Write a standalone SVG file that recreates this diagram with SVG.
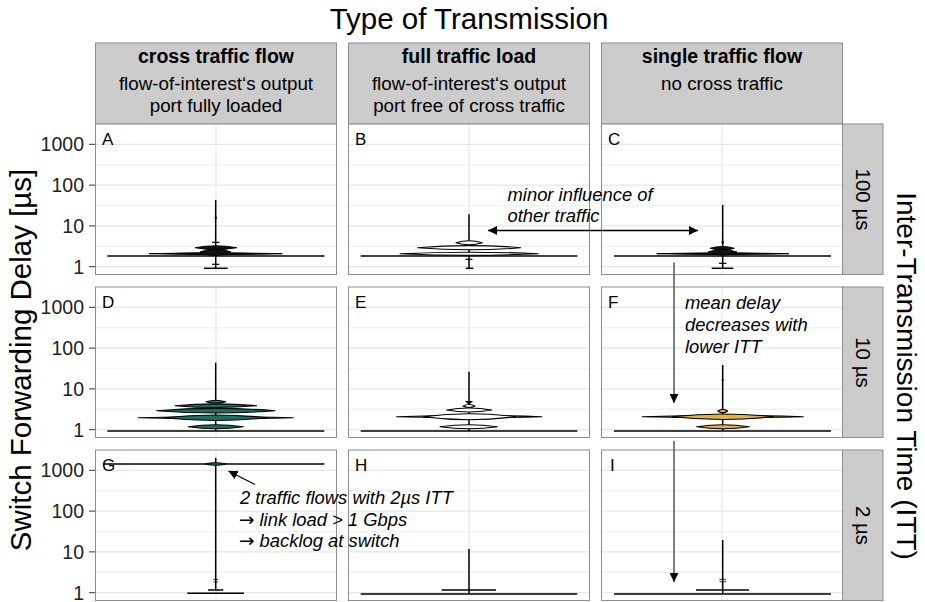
<svg xmlns="http://www.w3.org/2000/svg" width="925" height="602" viewBox="0 0 925 602">
  <defs>
    <marker id="ah" viewBox="0 0 10 10" refX="10" refY="5" markerWidth="9" markerHeight="9" markerUnits="userSpaceOnUse" orient="auto-start-reverse">
      <path d="M0,0 L10,5 L0,10 z" fill="#000"/>
    </marker>
    <style>
      text { font-family: "Liberation Sans", Arial, sans-serif; fill: #000; }
      .ttl { font-size: 29.5px; }
      .tick { font-size: 19.5px; text-anchor: end; fill: #222; }
      .hb { font-size: 19.5px; font-weight: bold; text-anchor: middle; }
      .hr { font-size: 18.8px; text-anchor: middle; }
      .rs { font-size: 20.5px; text-anchor: middle; }
      .lab { font-size: 17px; }
      .note { font-size: 18.4px; font-style: italic; }
      .sym { font-family: "DejaVu Sans", sans-serif; }
      .strip { fill: #CCCCCC; stroke: #8C8C8C; stroke-width: 1; }
      .panel { fill: #FFFFFF; }
      .frame { fill: none; stroke: #8C8C8C; stroke-width: 1; }
      .gmaj { stroke: #E6E6E6; stroke-width: 1.2; }
      .gmin { stroke: #F2F2F2; stroke-width: 1.4; }
      .tk { stroke: #333; stroke-width: 1; }
      .ln { stroke: #000; stroke-width: 1.5; fill: none; }
      .lt { stroke: #000; stroke-width: 1.2; fill: none; }
      .lh { stroke: #000; stroke-width: 0.8; fill: none; }
      .vA { fill: #1B6E63; stroke: #000; stroke-width: 1.1; stroke-linejoin: round; }
      .vB { fill: #FFFFFF; stroke: #000; stroke-width: 1.1; stroke-linejoin: round; }
      .vC { fill: #E3B04B; stroke: #000; stroke-width: 1.1; stroke-linejoin: round; }
      .blk { fill: #111; stroke: #000; stroke-width: 1; }
      .arr { stroke: #000; stroke-width: 1.3; fill: none; }
      .arg { stroke: #555; stroke-width: 1.5; fill: none; }
    </style>
    <!-- grid for one panel (origin at panel top-left), width 241, height 150.5 -->
    <g id="grid">
      <rect class="panel" x="0" y="0" width="241" height="150.5"/>
      <line class="gmin" x1="0" x2="241" y1="40.7" y2="40.7"/>
      <line class="gmin" x1="0" x2="241" y1="81.5" y2="81.5"/>
      <line class="gmin" x1="0" x2="241" y1="122.3" y2="122.3"/>
      <line class="gmaj" x1="0" x2="241" y1="20.3" y2="20.3"/>
      <line class="gmaj" x1="0" x2="241" y1="61.1" y2="61.1"/>
      <line class="gmaj" x1="0" x2="241" y1="101.9" y2="101.9"/>
      <line class="gmaj" x1="0" x2="241" y1="142.7" y2="142.7"/>
      <line class="gmaj" x1="120.5" x2="120.5" y1="0" y2="150.5"/>
    </g>
  </defs>

  <rect width="925" height="602" fill="#FFFFFF"/>

  <!-- titles -->
  <g id="titles">
    <text class="ttl" x="469" y="29" text-anchor="middle">Type of Transmission</text>
    <text class="ttl" transform="translate(31,360) rotate(-90)" text-anchor="middle">Switch Forwarding Delay [µs]</text>
    <text class="ttl" style="font-size:28px" transform="translate(897,376) rotate(90)" text-anchor="middle">Inter-Transmission Time (ITT)</text>
  </g>

  <!-- column strips -->
  <g id="strip-cross">
    <rect class="strip" x="95.5" y="43" width="241" height="81"/>
    <text class="hb" x="216" y="63.3">cross traffic flow</text>
    <text class="hr" x="216" y="90">flow-of-interest‘s output</text>
    <text class="hr" x="216" y="111.7">port fully loaded</text>
  </g>
  <g id="strip-full">
    <rect class="strip" x="348.5" y="43" width="241" height="81"/>
    <text class="hb" x="469" y="63.3">full traffic load</text>
    <text class="hr" x="469" y="90">flow-of-interest‘s output</text>
    <text class="hr" x="469" y="111.7">port free of cross traffic</text>
  </g>
  <g id="strip-single">
    <rect class="strip" x="601.5" y="43" width="241" height="81"/>
    <text class="hb" x="722" y="63.3">single traffic flow</text>
    <text class="hr" x="722" y="90">no cross traffic</text>
  </g>

  <!-- row strips -->
  <g id="strip-100us">
    <rect class="strip" x="842.5" y="124" width="40.5" height="150.5"/>
    <text class="rs" transform="translate(856,199.5) rotate(90)">100 µs</text>
  </g>
  <g id="strip-10us">
    <rect class="strip" x="842.5" y="287" width="40.5" height="150.5"/>
    <text class="rs" transform="translate(856,362.5) rotate(90)">10 µs</text>
  </g>
  <g id="strip-2us">
    <rect class="strip" x="842.5" y="450" width="40.5" height="150.5"/>
    <text class="rs" transform="translate(856,525.5) rotate(90)">2 µs</text>
  </g>

  <!-- y axis ticks and labels -->
  <g id="axis-y">
    <g class="tk">
      <line x1="89" x2="95.5" y1="144.3" y2="144.3"/><line x1="89" x2="95.5" y1="185.1" y2="185.1"/>
      <line x1="89" x2="95.5" y1="225.9" y2="225.9"/><line x1="89" x2="95.5" y1="266.7" y2="266.7"/>
      <line x1="89" x2="95.5" y1="307.3" y2="307.3"/><line x1="89" x2="95.5" y1="348.1" y2="348.1"/>
      <line x1="89" x2="95.5" y1="388.9" y2="388.9"/><line x1="89" x2="95.5" y1="429.7" y2="429.7"/>
      <line x1="89" x2="95.5" y1="470.3" y2="470.3"/><line x1="89" x2="95.5" y1="511.1" y2="511.1"/>
      <line x1="89" x2="95.5" y1="551.9" y2="551.9"/><line x1="89" x2="95.5" y1="592.7" y2="592.7"/>
    </g>
    <text class="tick" x="84" y="151.3">1000</text><text class="tick" x="84" y="192.1">100</text>
    <text class="tick" x="84" y="232.9">10</text><text class="tick" x="84" y="273.7">1</text>
    <text class="tick" x="84" y="314.3">1000</text><text class="tick" x="84" y="355.1">100</text>
    <text class="tick" x="84" y="395.9">10</text><text class="tick" x="84" y="436.7">1</text>
    <text class="tick" x="84" y="477.3">1000</text><text class="tick" x="84" y="518.1">100</text>
    <text class="tick" x="84" y="558.9">10</text><text class="tick" x="84" y="599.7">1</text>
  </g>

  <!-- panel A: cross traffic, 100 µs -->
  <g id="panel-A">
    <use href="#grid" x="95.5" y="124"/>
    <line class="ln" x1="215.7" x2="215.7" y1="200" y2="268.3"/>
    <circle cx="215.7" cy="217.7" r="1.2"/>
    <line class="lt" x1="212" x2="219.5" y1="242.3" y2="242.3"/>
    <path class="blk" d="M195,247.7 Q215.7,244 236.7,247.7 Q215.7,251.4 195,247.7 z"/>
    <path class="blk" d="M149,253.7 Q215.7,251.5 282.3,253.7 Q215.7,255.9 149,253.7 z"/>
    <path class="blk" d="M200,252 Q215.7,246 231,252 Q215.7,259 200,252 z"/>
    <line class="ln" x1="107.3" x2="324.3" y1="256" y2="256"/>
    <line class="lt" x1="212" x2="219.5" y1="264.3" y2="264.3"/>
    <line class="ln" x1="204" x2="227.7" y1="268.3" y2="268.3"/>
    <text class="lab" x="102" y="145">A</text>
    <rect class="frame" x="95.5" y="124" width="241" height="150.5"/>
  </g>

  <!-- panel B: full load, 100 µs -->
  <g id="panel-B">
    <use href="#grid" x="348.5" y="124"/>
    <line class="ln" x1="469" x2="469" y1="214.3" y2="268.3"/>
    <path class="vB" d="M456,242.7 Q469,238.7 482.3,242.7 Q469,246.7 456,242.7 z"/>
    <path class="vB" d="M417.7,247.7 Q469,243.5 520.7,247.7 Q469,251.9 417.7,247.7 z"/>
    <path class="vB" d="M400,253.7 Q469,250.7 538.3,253.7 Q469,256.7 400,253.7 z"/>
    <line class="ln" x1="360.7" x2="577.3" y1="256" y2="256"/>
    <line class="lt" x1="465.5" x2="472.5" y1="259.3" y2="259.3"/>
    <line class="ln" x1="465.7" x2="473.3" y1="268.3" y2="268.3"/>
    <text class="lab" x="355" y="145">B</text>
    <rect class="frame" x="348.5" y="124" width="241" height="150.5"/>
  </g>

  <!-- panel C: single flow, 100 µs -->
  <g id="panel-C">
    <use href="#grid" x="601.5" y="124"/>
    <line class="ln" x1="722.7" x2="722.7" y1="205" y2="268.3"/>
    <circle cx="722.7" cy="242.3" r="1.2"/>
    <path class="blk" d="M710,248.3 Q722.7,244.8 734.3,248.3 Q722.7,251.8 710,248.3 z"/>
    <path class="blk" d="M656.7,253.7 Q722.7,251.6 789,253.7 Q722.7,255.8 656.7,253.7 z"/>
    <path class="blk" d="M708,252 Q722.7,247 737,252 Q722.7,258 708,252 z"/>
    <line class="ln" x1="614" x2="831" y1="256" y2="256"/>
    <line class="lt" x1="719" x2="726.5" y1="263.3" y2="263.3"/>
    <line class="ln" x1="711.7" x2="733.3" y1="268.3" y2="268.3"/>
    <text class="lab" x="608" y="145">C</text>
    <rect class="frame" x="601.5" y="124" width="241" height="150.5"/>
  </g>

  <!-- panel D: cross traffic, 10 µs -->
  <g id="panel-D">
    <use href="#grid" x="95.5" y="287"/>
    <line class="ln" x1="215.7" x2="215.7" y1="362.7" y2="431"/>
    <path class="vA" d="M206,401.7 Q215.7,398.7 225.7,401.7 Q215.7,404.7 206,401.7 z"/>
    <path class="vA" d="M175,405.7 Q215.7,402 256.7,405.7 Q215.7,409.4 175,405.7 z"/>
    <path class="vA" d="M156.7,410.7 Q215.7,406 275,410.7 Q215.7,415.4 156.7,410.7 z"/>
    <path class="vA" d="M138.3,417.7 Q215.7,415.7 293.3,417.7 Q215.7,419.7 138.3,417.7 z"/>
    <path class="vA" d="M163.3,417.7 Q215.7,412.2 266.7,417.7 Q215.7,423.2 163.3,417.7 z"/>
    <path class="vA" d="M188.3,426.7 Q215.7,422.7 243.3,426.7 Q215.7,430.7 188.3,426.7 z"/>
    <line class="ln" x1="107.3" x2="324.3" y1="431" y2="431"/>
    <text class="lab" x="102" y="308">D</text>
    <rect class="frame" x="95.5" y="287" width="241" height="150.5"/>
  </g>

  <!-- panel E: full load, 10 µs -->
  <g id="panel-E">
    <use href="#grid" x="348.5" y="287"/>
    <line class="ln" x1="469" x2="469" y1="371.7" y2="431"/>
    <path d="M465,401 L473,401 L469,405 z" fill="#000"/>
    <path class="vB" d="M463,406 Q469,403 475,406 Q469,409 463,406 z"/>
    <path class="vB" d="M446.7,410 Q469,406 491.7,410 Q469,414 446.7,410 z"/>
    <path class="vB" d="M396.7,416.7 Q469,414.5 541.7,416.7 Q469,418.9 396.7,416.7 z"/>
    <path class="vB" d="M423.3,416.7 Q469,410.7 515.7,416.7 Q469,422.7 423.3,416.7 z"/>
    <path class="vB" d="M440,426.7 Q469,422.7 497.3,426.7 Q469,430.7 440,426.7 z"/>
    <line class="ln" x1="360.7" x2="577.3" y1="431" y2="431"/>
    <text class="lab" x="355" y="308">E</text>
    <rect class="frame" x="348.5" y="287" width="241" height="150.5"/>
  </g>

  <!-- panel F: single flow, 10 µs -->
  <g id="panel-F">
    <use href="#grid" x="601.5" y="287"/>
    <line class="ln" x1="722.7" x2="722.7" y1="365" y2="431"/>
    <circle cx="722.7" cy="380" r="1.1"/>
    <path class="vC" d="M717.7,411 Q722.7,407.5 727.7,411 Q722.7,414.5 717.7,411 z"/>
    <path class="vC" d="M642.3,416.7 Q722.7,414.5 803.3,416.7 Q722.7,418.9 642.3,416.7 z"/>
    <path class="vC" d="M672.3,416.7 Q722.7,411.2 773.3,416.7 Q722.7,422.2 672.3,416.7 z"/>
    <path class="vC" d="M696.7,426.7 Q722.7,422.7 749.3,426.7 Q722.7,430.7 696.7,426.7 z"/>
    <line class="ln" x1="614" x2="831" y1="431" y2="431"/>
    <text class="lab" x="608" y="308">F</text>
    <rect class="frame" x="601.5" y="287" width="241" height="150.5"/>
  </g>

  <!-- panel G: cross traffic, 2 µs -->
  <g id="panel-G">
    <use href="#grid" x="95.5" y="450"/>
    <line class="ln" x1="215.7" x2="215.7" y1="457.7" y2="590"/>
    <line class="ln" x1="104" x2="324.3" y1="464" y2="464"/>
    <path class="vA" d="M205,464 Q215.7,461.5 226,464 Q215.7,466.5 205,464 z"/>
    <line class="lh" x1="213.5" x2="218" y1="579.5" y2="579.5"/>
    <line class="lh" x1="213.5" x2="218" y1="582" y2="582"/>
    <line class="ln" x1="208" x2="223.3" y1="590" y2="590"/>
    <line class="ln" x1="187.3" x2="244" y1="593.3" y2="593.3"/>
    <text class="lab" x="102" y="471">G</text>
    <rect class="frame" x="95.5" y="450" width="241" height="150.5"/>
  </g>

  <!-- panel H: full load, 2 µs -->
  <g id="panel-H">
    <use href="#grid" x="348.5" y="450"/>
    <line class="ln" x1="469" x2="469" y1="549" y2="593.5"/>
    <line class="ln" x1="441.7" x2="496" y1="590" y2="590"/>
    <line class="ln" x1="360.7" x2="577.3" y1="594" y2="594"/>
    <text class="lab" x="355" y="471">H</text>
    <rect class="frame" x="348.5" y="450" width="241" height="150.5"/>
  </g>

  <!-- panel I: single flow, 2 µs -->
  <g id="panel-I">
    <use href="#grid" x="601.5" y="450"/>
    <line class="ln" x1="722.7" x2="722.7" y1="540" y2="593.5"/>
    <line class="lh" x1="719.5" x2="726" y1="579.3" y2="579.3"/>
    <line class="lh" x1="719.5" x2="726" y1="581.7" y2="581.7"/>
    <line class="ln" x1="696" x2="749" y1="590" y2="590"/>
    <line class="ln" x1="614" x2="831" y1="594" y2="594"/>
    <text class="lab" x="610" y="471">I</text>
    <rect class="frame" x="601.5" y="450" width="241" height="150.5"/>
  </g>

  <!-- annotation notes -->
  <g id="note-influence">
    <text class="note" x="507.5" y="200.5">minor influence of</text>
    <text class="note" x="507.5" y="222">other traffic</text>
  </g>
  <g id="note-mean">
    <text class="note" x="685" y="308.5">mean delay</text>
    <text class="note" x="685" y="330.5">decreases with</text>
    <text class="note" x="685" y="352.5">lower ITT</text>
  </g>
  <g id="note-backlog">
    <text class="note" x="240" y="504">2 traffic flows with 2µs ITT</text>
    <text class="note" x="239" y="525.5"><tspan class="sym">→</tspan> link load &gt; 1 Gbps</text>
    <text class="note" x="239" y="547"><tspan class="sym">→</tspan> backlog at switch</text>
  </g>

  <!-- connectors -->
  <g id="connectors">
    <line class="arr" x1="488" y1="230.5" x2="698" y2="230.5" marker-start="url(#ah)" marker-end="url(#ah)"/>
    <line class="arg" x1="674" y1="262.5" x2="674" y2="403" marker-end="url(#ah)"/>
    <line class="arg" x1="674" y1="441" x2="674" y2="582" marker-end="url(#ah)"/>
    <line class="arr" x1="255" y1="484.5" x2="228.5" y2="471" marker-end="url(#ah)"/>
  </g>
</svg>
